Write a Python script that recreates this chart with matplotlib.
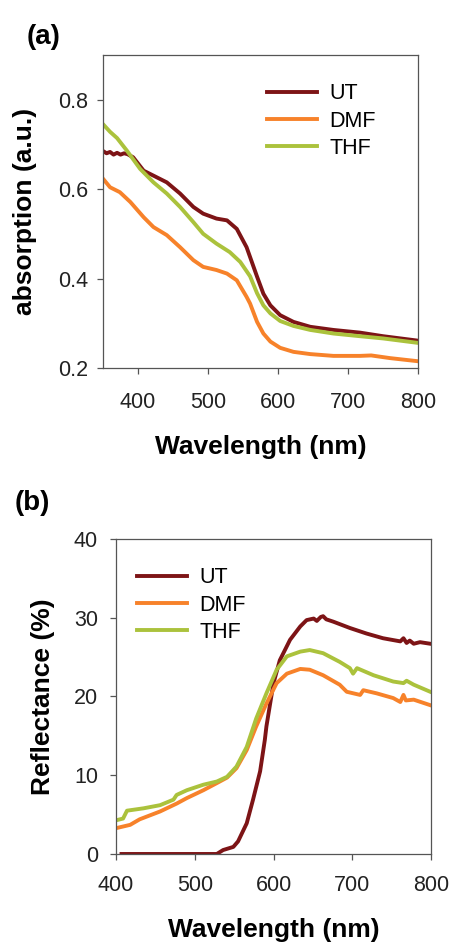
import matplotlib
matplotlib.use("Agg")
import matplotlib.pyplot as plt

plt.rcParams['font.family'] = ['Liberation Sans', 'DejaVu Sans']

# panel (a): absorption spectra
wl_a_ut = [350, 355, 360, 365, 370, 375, 380, 385, 393, 400, 408, 422, 441, 460, 479, 493,
           512, 527, 541, 555, 560, 570, 579, 589, 603, 622, 646, 679, 717, 750, 800]
abs_ut = [0.685, 0.680, 0.683, 0.677, 0.681, 0.677, 0.680, 0.678, 0.671, 0.657, 0.641, 0.630,
          0.615, 0.590, 0.560, 0.545, 0.534, 0.530, 0.511, 0.470, 0.448, 0.404, 0.366, 0.340,
          0.318, 0.303, 0.292, 0.285, 0.279, 0.271, 0.261]

wl_a_dmf = [350, 360, 374, 389, 408, 422, 441, 460, 479, 493, 512, 527, 541, 555, 560, 570,
            579, 589, 603, 622, 646, 679, 717, 733, 760, 800]
abs_dmf = [0.623, 0.604, 0.593, 0.571, 0.537, 0.515, 0.497, 0.470, 0.441, 0.426, 0.419, 0.411,
           0.396, 0.359, 0.344, 0.303, 0.277, 0.259, 0.245, 0.236, 0.231, 0.227, 0.227, 0.228,
           0.222, 0.215]

wl_a_thf = [350, 360, 370, 384, 403, 422, 441, 460, 479, 493, 512, 531, 546, 560, 570, 579,
            589, 603, 622, 646, 679, 717, 750, 800]
abs_thf = [0.745, 0.728, 0.714, 0.686, 0.645, 0.615, 0.590, 0.560, 0.526, 0.500, 0.478, 0.459,
           0.437, 0.405, 0.367, 0.340, 0.322, 0.305, 0.294, 0.285, 0.277, 0.271, 0.266, 0.256]

# panel (b): reflectance spectra
wl_b_ut = [407, 528, 536, 549, 555, 566, 574, 583, 589, 591, 600, 608, 621, 634, 642, 651, 655,
           660, 663, 667, 676, 697, 718, 739, 761, 765, 769, 773, 778, 786, 799]
ref_ut = [0.0, 0.0, 0.5, 0.9, 1.6, 3.9, 6.9, 10.5, 14.5, 16.2, 21.7, 24.6, 27.2, 28.9, 29.7,
          29.9, 29.6, 30.1, 30.2, 29.8, 29.5, 28.7, 28.0, 27.4, 27.0, 27.4, 26.8, 27.1, 26.7,
          26.9, 26.7]

wl_b_dmf = [401, 418, 430, 456, 477, 490, 511, 528, 541, 553, 566, 578, 591, 604, 617, 634, 646,
            663, 684, 693, 710, 714, 731, 752, 761, 765, 768, 778, 799]
ref_dmf = [3.3, 3.7, 4.4, 5.4, 6.4, 7.1, 8.1, 9.0, 9.7, 10.9, 13.2, 16.2, 19.1, 21.7, 22.9, 23.5,
           23.4, 22.7, 21.5, 20.6, 20.2, 20.8, 20.4, 19.8, 19.3, 20.2, 19.5, 19.6, 18.9]

wl_b_thf = [401, 409, 414, 435, 456, 473, 477, 490, 511, 528, 541, 553, 566, 578, 591, 604, 617,
            634, 646, 663, 684, 697, 701, 706, 727, 752, 765, 769, 778, 799]
ref_thf = [4.3, 4.5, 5.5, 5.8, 6.2, 6.9, 7.5, 8.1, 8.8, 9.2, 9.8, 11.1, 13.6, 17.2, 20.4, 23.4,
           25.1, 25.7, 25.9, 25.5, 24.4, 23.6, 22.9, 23.6, 22.7, 21.9, 21.7, 22.0, 21.5, 20.6]

colors = {'UT': '#7d1416', 'DMF': '#f7822a', 'THF': '#abc23c'}

fig = plt.figure(figsize=(4.52, 9.43), dpi=100)
ax1 = fig.add_axes([0.228, 0.6098, 0.697, 0.332])
ax2 = fig.add_axes([0.2566, 0.0944, 0.697, 0.334])

ax1.plot(wl_a_ut, abs_ut, color=colors['UT'], lw=2.8, label='UT')
ax1.plot(wl_a_dmf, abs_dmf, color=colors['DMF'], lw=2.8, label='DMF')
ax1.plot(wl_a_thf, abs_thf, color=colors['THF'], lw=2.8, label='THF')
ax1.set_xlim(350, 800)
ax1.set_ylim(0.2, 0.9)
ax1.set_xticks([400, 500, 600, 700, 800])
ax1.set_yticks([0.2, 0.4, 0.6, 0.8])

ax2.plot(wl_b_ut, ref_ut, color=colors['UT'], lw=2.8, label='UT')
ax2.plot(wl_b_dmf, ref_dmf, color=colors['DMF'], lw=2.8, label='DMF')
ax2.plot(wl_b_thf, ref_thf, color=colors['THF'], lw=2.8, label='THF')
ax2.set_xlim(400, 800)
ax2.set_ylim(0, 40)
ax2.set_xticks([400, 500, 600, 700, 800])
ax2.set_yticks([0, 10, 20, 30, 40])

for ax in (ax1, ax2):
    for sp in ax.spines.values():
        sp.set_color('#555555')
        sp.set_linewidth(0.9)
    ax.tick_params(direction='out', length=4, width=0.9, color='#555555',
                   labelsize=15.5, labelcolor='#222222')

ax1.tick_params(axis='x', pad=13)
ax1.tick_params(axis='y', pad=7)
ax2.tick_params(axis='x', pad=11)
ax2.tick_params(axis='y', pad=9)

ax1.set_xlabel('Wavelength (nm)', fontsize=19, fontweight='bold', va='center')
ax1.set_ylabel('absorption (a.u.)', fontsize=19, fontweight='bold', va='center')
ax1.xaxis.set_label_coords(0.5, -0.252)
ax1.yaxis.set_label_coords(-0.248, 0.5)

ax2.set_xlabel('Wavelength (nm)', fontsize=19, fontweight='bold', va='center')
ax2.set_ylabel('Reflectance (%)', fontsize=19, fontweight='bold', va='center')
ax2.xaxis.set_label_coords(0.5, -0.241)
ax2.yaxis.set_label_coords(-0.232, 0.5)

ax1.legend(loc='upper left', bbox_to_anchor=(0.521, 0.91), frameon=False, fontsize=15.5,
           handlelength=2.3, handletextpad=0.6, labelspacing=0.3, borderpad=0, borderaxespad=0)
ax2.legend(loc='upper left', bbox_to_anchor=(0.067, 0.911), frameon=False, fontsize=15.5,
           handlelength=2.3, handletextpad=0.6, labelspacing=0.3, borderpad=0, borderaxespad=0)

fig.text(0.06, 0.961, '(a)', fontsize=20, fontweight='bold', va='center', ha='left')
fig.text(0.033, 0.467, '(b)', fontsize=20, fontweight='bold', va='center', ha='left')

fig.savefig('out.png', dpi=100)
